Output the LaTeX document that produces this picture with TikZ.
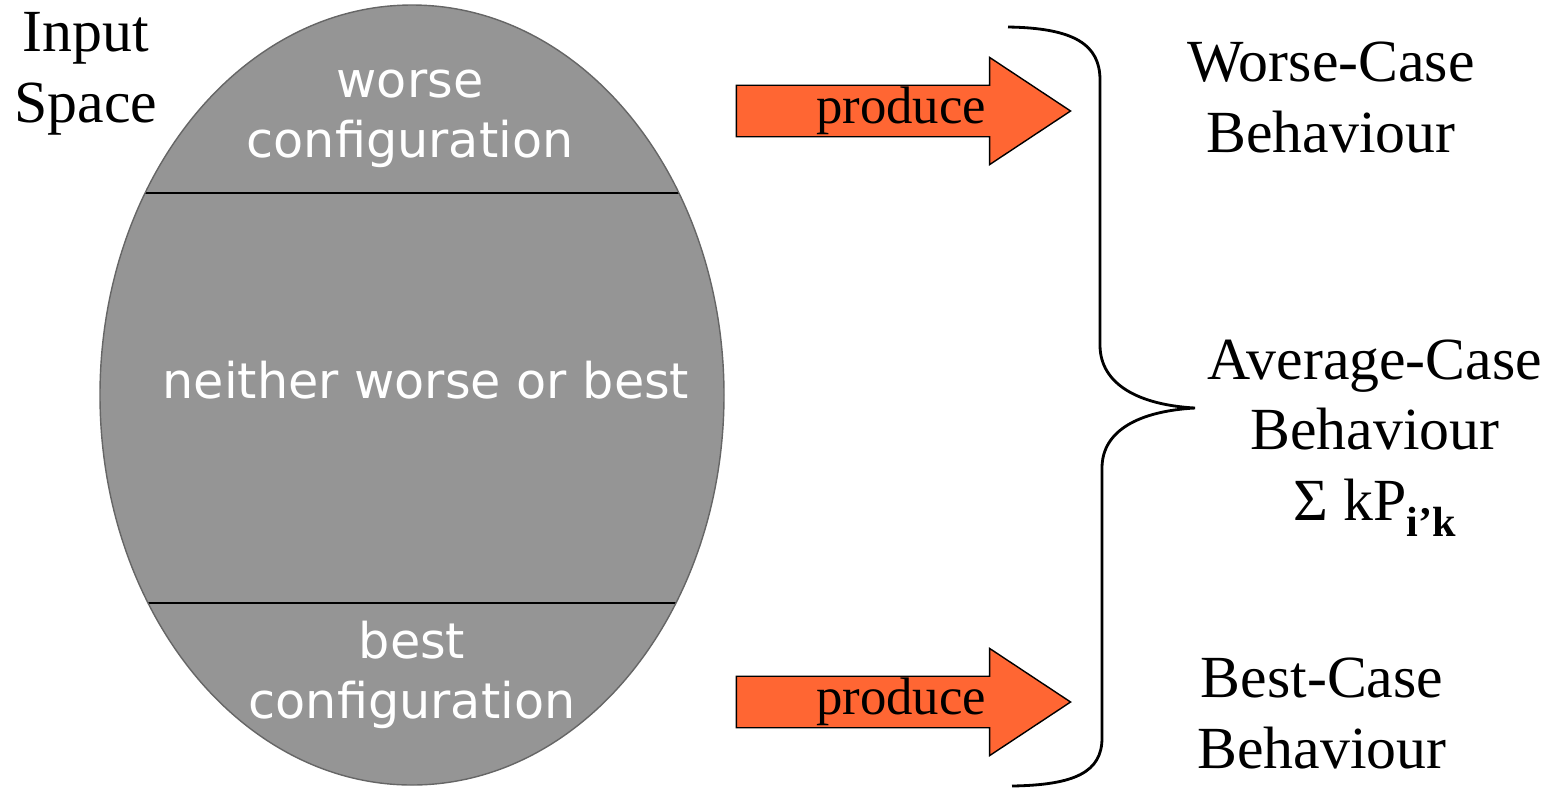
\documentclass[tikz,border=0pt]{standalone}
\usepackage{fontspec}
\setmainfont{Liberation Serif}
\newfontfamily\handfont{DejaVu Sans}
\usetikzlibrary{shapes.arrows}
\definecolor{spacegray}{RGB}{149,149,149}
\definecolor{produceorange}{RGB}{255,102,51}

\begin{document}
\begin{tikzpicture}[x=0.01cm, y=-0.01cm,
  casetext/.style={align=center, anchor=base, inner sep=0pt, font=\fontsize{17}{20}\selectfont},
  region/.style={align=center, anchor=base, inner sep=0pt, text=white, font=\handfont\fontsize{14}{17}\selectfont},
  produce/.style={single arrow, draw=black, fill=produceorange, thin, minimum height=3.34cm, minimum width=1.07cm,
    single arrow head extend=0.265cm, single arrow tip angle=67, inner sep=0pt, font=\fontsize{15}{18}\selectfont}]

\useasboundingbox (0,0) rectangle (1557,787);

% Input space
\fill[spacegray] (412,395) ellipse [x radius=312, y radius=390];
\begin{scope}
\clip (412,395) ellipse [x radius=312, y radius=390];
\draw[thin] (100,193) -- (725,193);
\draw[thin] (100,603) -- (725,603);
\end{scope}
\draw[black!60, thin] (412,395) ellipse [x radius=312, y radius=390];

\node[casetext] (input) at (86,122) {Input\\Space};

% Regions
\node[region] (worse) at (410,157) {worse\\configuration};
\node[region] (neither) at (426,398) {neither worse or best};
\node[region] (bestconf) at (412,718) {best\\configuration};

% Arrows
\node[produce] (produceup) at (884,111) {\hspace*{0.34cm}produce};
\node[produce] (producedown) at (884,702) {\hspace*{0.34cm}produce};

% Brace
\draw[line width=0.8pt] (1008,27) .. controls (1075,28) and (1100,45) .. (1100,80) -- (1100,345)
  .. controls (1100,385) and (1140,405) .. (1195,408)
  .. controls (1140,411) and (1102,430) .. (1102,468) -- (1102,738)
  .. controls (1102,772) and (1075,785) .. (1012,786);

% Behaviours
\node[casetext] (worstcase) at (1331,152) {Worse-Case\\Behaviour};
\node[casetext] (avgcase) at (1375,520) {Average-Case\\Behaviour\\Σ kP\raisebox{-0.6ex}{\fontsize{12}{14}\selectfont\bfseries i’k}};
\node[casetext] (bestcase) at (1322,768) {Best-Case\\Behaviour};
\end{tikzpicture}
\end{document}
